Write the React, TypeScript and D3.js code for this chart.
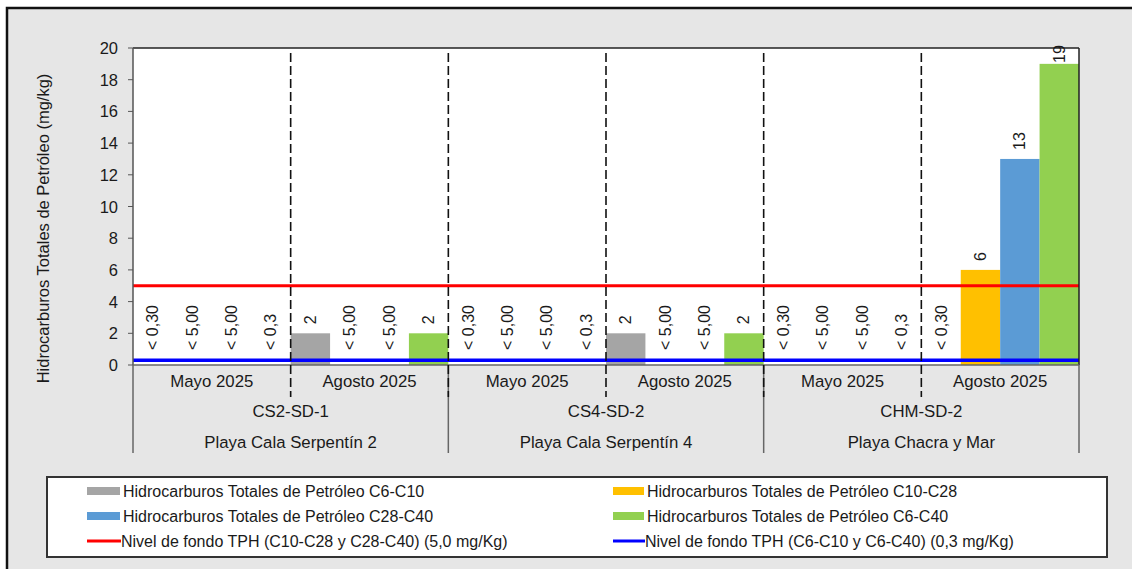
import React from "react";
import * as d3 from "d3";

const periods = ["Mayo 2025", "Agosto 2025"];
const sites = ["CS2-SD-1", "CS4-SD-2", "CHM-SD-2"];
const beaches = ["Playa Cala Serpentín 2", "Playa Cala Serpentín 4", "Playa Chacra y Mar"];
const groups = ["CS2 Mayo", "CS2 Agosto", "CS4 Mayo", "CS4 Agosto", "CHM Mayo", "CHM Agosto"];

const seriesNames = [
  "Hidrocarburos Totales de Petróleo C6-C10",
  "Hidrocarburos Totales de Petróleo C10-C28",
  "Hidrocarburos Totales de Petróleo C28-C40",
  "Hidrocarburos Totales de Petróleo C6-C40",
];
const seriesColors = ["#a5a5a5", "#ffc000", "#5b9bd5", "#92d050"];

const c6c10Values: (number | null)[] = [null, 2, null, 2, null, null];
const c6c10Labels = ["< 0,30", "2", "< 0,30", "2", "< 0,30", "< 0,30"];
const c10c28Values: (number | null)[] = [null, null, null, null, null, 6];
const c10c28Labels = ["< 5,00", "< 5,00", "< 5,00", "< 5,00", "< 5,00", "6"];
const c28c40Values: (number | null)[] = [null, null, null, null, null, 13];
const c28c40Labels = ["< 5,00", "< 5,00", "< 5,00", "< 5,00", "< 5,00", "13"];
const c6c40Values: (number | null)[] = [null, 2, null, 2, null, 19];
const c6c40Labels = ["< 0,3", "2", "< 0,3", "2", "< 0,3", "19"];

const yTicks = [0, 2, 4, 6, 8, 10, 12, 14, 16, 18, 20];
const refHigh = 5.0;
const refLow = 0.3;
const refHighLabel = "Nivel de fondo TPH (C10-C28 y C28-C40) (5,0 mg/Kg)";
const refLowLabel = "Nivel de fondo TPH (C6-C10 y C6-C40) (0,3 mg/Kg)";
const yTitle = "Hidrocarburos Totales de Petróleo (mg/kg)";

const W = 1132;
const H = 569;
const FONT = "Arial, 'Liberation Sans', sans-serif";

export default function App() {
  const left = 133, right = 1079, top = 48, bottom = 365;
  const x0 = d3.scaleBand<string>().domain(groups).range([left, right]).padding(0);
  const x1 = d3.scaleBand<number>().domain([0, 1, 2, 3]).range([0, x0.bandwidth()]).padding(0);
  const y = d3.scaleLinear().domain([0, 20]).range([bottom, top]);

  const allValues = [c6c10Values, c10c28Values, c28c40Values, c6c40Values];
  const allLabels = [c6c10Labels, c10c28Labels, c28c40Labels, c6c40Labels];

  const siteWidth = x0.bandwidth() * 2;
  const boundaries = groups.slice(1).map((g) => x0(g)!);
  const siteBoundaries = [0, 2, 4].map((i) => x0(groups[i])!).concat([right]);

  return (
    <svg width={W} height={H} style={{ position: "absolute", left: 0, top: 0 }} fontFamily={FONT}>
      <rect x={0} y={0} width={W} height={H} fill="#ffffff" />
      <rect x={7} y={8} width={W + 20} height={H + 20} fill="#e6e6e6" stroke="#111" strokeWidth={2.5} />
      {/* plot area */}
      <rect x={left} y={top} width={right - left} height={bottom - top} fill="#ffffff" />
      {/* bars */}
      {groups.map((g, gi) =>
        allValues.map((vals, si) => {
          const v = vals[gi];
          if (v == null) return null;
          return (
            <rect
              key={`b-${gi}-${si}`}
              x={x0(g)! + x1(si)!}
              y={y(v)}
              width={x1.bandwidth()}
              height={y(0) - y(v)}
              fill={seriesColors[si]}
            />
          );
        })
      )}
      {/* reference lines */}
      <line x1={left} x2={right} y1={y(refHigh)} y2={y(refHigh)} stroke="#ff0000" strokeWidth={3} />
      <line x1={left} x2={right} y1={y(refLow)} y2={y(refLow)} stroke="#0000ff" strokeWidth={3.5} />
      {/* plot border */}
      <line x1={left} x2={right} y1={top} y2={top} stroke="#222" strokeWidth={1.5} />
      <line x1={right} x2={right} y1={top} y2={bottom} stroke="#222" strokeWidth={1.5} />
      <line x1={left} x2={left} y1={top} y2={bottom} stroke="#555" strokeWidth={1.5} />
      <line x1={left} x2={right} y1={bottom} y2={bottom} stroke="#666" strokeWidth={1.5} />
      {/* value labels */}
      {groups.map((g, gi) =>
        allLabels.map((labs, si) => {
          const v = allValues[si][gi];
          const cx = x0(g)! + x1(si)! + x1.bandwidth() / 2;
          const yy = v == null ? y(0) - 15 : Math.max(y(v) - 9, y(20) + 15);
          return (
            <text
              key={`l-${gi}-${si}`}
              transform={`translate(${cx},${yy}) rotate(-90)`}
              textAnchor="start"
              dominantBaseline="central"
              fontSize={16}
              fill="#1a1a1a"
            >
              {labs[gi]}
            </text>
          );
        })
      )}
      {/* y axis */}
      {yTicks.map((t) => (
        <g key={`yt-${t}`}>
          <line x1={left - 5} x2={left} y1={y(t)} y2={y(t)} stroke="#555" strokeWidth={1} />
          <text x={118} y={y(t)} textAnchor="end" dominantBaseline="central" fontSize={16.5} fill="#1a1a1a">
            {t}
          </text>
        </g>
      ))}
      <text
        transform={`translate(43,${(top + bottom) / 2 + 22}) rotate(-90)`}
        textAnchor="middle"
        dominantBaseline="central"
        fontSize={16.5}
        fill="#1a1a1a"
      >
        {yTitle}
      </text>
      {/* separators */}
      {siteBoundaries.map((bx, i) => (
        <line key={`sb-${i}`} x1={bx} x2={bx} y1={bottom} y2={453} stroke="#666" strokeWidth={1.5} />
      ))}
      {boundaries.map((bx, i) => (
        <line
          key={`db-${i}`}
          x1={bx}
          x2={bx}
          y1={top + 5}
          y2={397}
          stroke="#111"
          strokeWidth={1.6}
          strokeDasharray="9,4"
        />
      ))}
      {/* category labels */}
      {groups.map((g, gi) => (
        <text
          key={`p-${gi}`}
          x={x0(g)! + x0.bandwidth() / 2}
          y={381}
          textAnchor="middle"
          dominantBaseline="central"
          fontSize={16.8}
          fill="#1a1a1a"
        >
          {periods[gi % 2]}
        </text>
      ))}
      {sites.map((s, i) => (
        <text
          key={`s-${i}`}
          x={x0(groups[i * 2])! + siteWidth / 2}
          y={411}
          textAnchor="middle"
          dominantBaseline="central"
          fontSize={16.8}
          fill="#1a1a1a"
        >
          {s}
        </text>
      ))}
      {beaches.map((b, i) => (
        <text
          key={`bh-${i}`}
          x={x0(groups[i * 2])! + siteWidth / 2}
          y={442}
          textAnchor="middle"
          dominantBaseline="central"
          fontSize={16.8}
          fill="#1a1a1a"
        >
          {b}
        </text>
      ))}
      {/* legend */}
      <rect x={47} y={477} width={1060} height={80} fill="#ffffff" stroke="#333" strokeWidth={2} />
      {[0, 2].map((si, row) => (
        <g key={`lg1-${si}`}>
          <rect x={87} y={491 + row * 25 - 4} width={33} height={8} fill={seriesColors[si]} />
          <text x={123} y={491 + row * 25} dominantBaseline="central" fontSize={16} fill="#1a1a1a">
            {seriesNames[si]}
          </text>
        </g>
      ))}
      {[1, 3].map((si, row) => (
        <g key={`lg2-${si}`}>
          <rect x={613} y={491 + row * 25 - 4} width={31} height={8} fill={seriesColors[si]} />
          <text x={647} y={491 + row * 25} dominantBaseline="central" fontSize={16} fill="#1a1a1a">
            {seriesNames[si]}
          </text>
        </g>
      ))}
      <line x1={87} x2={121} y1={541} y2={541} stroke="#ff0000" strokeWidth={3} />
      <text x={121} y={541} dominantBaseline="central" fontSize={16} fill="#1a1a1a">
        {refHighLabel}
      </text>
      <line x1={613} x2={645} y1={541} y2={541} stroke="#0000ff" strokeWidth={3} />
      <text x={645} y={541} dominantBaseline="central" fontSize={16} fill="#1a1a1a">
        {refLowLabel}
      </text>
    </svg>
  );
}
